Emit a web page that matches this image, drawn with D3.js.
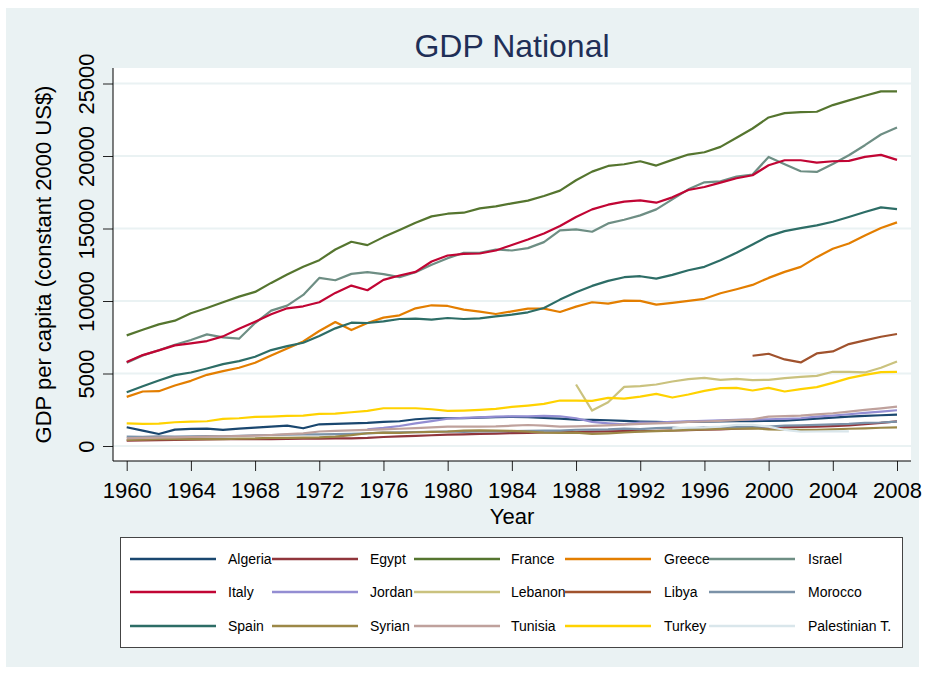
<!DOCTYPE html>
<html>
<head>
<meta charset="utf-8">
<script src="https://cdn.jsdelivr.net/npm/d3@7"></script>
<style>
  body { margin: 0; background: #ffffff; }
  text { font-family: "Liberation Sans", Arial, sans-serif; }
</style>
</head>
<body>
<svg id="chart"></svg>
<script>
// Data (GDP per capita, constant 2000 US$)
const years = d3.range(1960, 2009);
const yTicks = [0, 5000, 10000, 15000, 20000, 25000];
const xTicks = [1960, 1964, 1968, 1972, 1976, 1980, 1984, 1988, 1992, 1996, 2000, 2004, 2008];

const countries = ["Algeria", "Egypt", "France", "Greece", "Israel",
                   "Italy", "Jordan", "Lebanon", "Libya", "Morocco",
                   "Spain", "Syrian", "Tunisia", "Turkey", "Palestinian T."];
const colors = ["#1a476f", "#90353b", "#55752f", "#e37e00", "#6e8e84",
                "#c10534", "#938dd2", "#cac27e", "#a0522d", "#7b92a8",
                "#2d6d66", "#9c8847", "#bfa19c", "#ffd200", "#d9e6eb"];

const N = null;
const algeria = [1291,1060,830,1129,1176,1199,1106,1199,1268,1337,
  1406,1222,1498,1521,1567,1590,1660,1706,1844,1913,
  1913,1913,1959,1982,2005,1990,1930,1890,1821,1798,
  1775,1729,1683,1660,1637,1660,1683,1690,1706,1715,
  1729,1752,1821,1890,1959,2028,2075,2121,2167];
const egypt = [369,380,400,420,440,455,465,470,475,480,
  495,505,510,520,530,560,620,660,700,740,
  780,800,830,860,890,910,930,950,970,990,
  1010,1020,1030,1050,1070,1090,1120,1150,1190,1230,
  1270,1300,1320,1340,1370,1420,1500,1600,1700];
const france = [7630,8021,8390,8644,9151,9520,9912,10303,10626,11248,
  11825,12355,12816,13553,14084,13853,14406,14890,15397,15835,
  16020,16089,16389,16527,16734,16919,17241,17610,18325,18924,
  19316,19431,19639,19339,19731,20100,20261,20630,21253,21898,
  22659,22958,23027,23050,23511,23834,24156,24456,24456];
const greece = [3388,3757,3780,4172,4495,4910,5163,5394,5739,6247,
  6731,7215,7929,8552,7998,8482,8851,9013,9497,9704,
  9658,9405,9266,9105,9280,9474,9474,9243,9612,9912,
  9820,10027,10004,9750,9865,10004,10150,10534,10810,11110,
  11594,12009,12355,13023,13599,13968,14521,15029,15421];
const israel = [5750,6250,6600,6984,7307,7699,7491,7399,8482,9335,
  9681,10419,11594,11433,11871,11986,11848,11641,11986,12493,
  12954,13323,13323,13553,13484,13646,14061,14867,14936,14775,
  15351,15605,15904,16319,17011,17702,18186,18256,18578,18717,
  19938,19431,18947,18901,19454,20054,20745,21483,21967];
const italy = [5786,6270,6592,6938,7076,7238,7560,8091,8575,9082,
  9497,9635,9912,10557,11064,10741,11456,11756,12009,12724,
  13139,13254,13277,13484,13860,14245,14660,15167,15789,16319,
  16642,16850,16942,16780,17149,17656,17864,18164,18463,18671,
  19362,19708,19708,19547,19639,19662,19939,20077,19731];
const jordan = [N,N,N,N,N,N,N,N,N,N,
  N,N,N,N,N,1150,1250,1380,1560,1720,
  1880,1940,1980,2028,2040,2040,2075,2050,1913,1660,
  1567,1498,1613,1620,1660,1706,1729,1775,1798,1821,
  1844,1867,1913,2028,2098,2190,2282,2374,2466];
const lebanon = [N,N,N,N,N,N,N,N,N,N,
  N,N,N,N,N,N,N,N,N,N,
  N,N,N,N,N,N,N,N,4241,2443,
  3020,4080,4126,4241,4449,4610,4702,4564,4633,4541,
  4564,4679,4771,4840,5117,5117,5071,5394,5832];
const libya = [N,N,N,N,N,N,N,N,N,N,
  N,N,N,N,N,N,N,N,N,N,
  N,N,N,N,N,N,N,N,N,N,
  N,N,N,N,N,N,N,N,N,6224,
  6362,5970,5763,6385,6523,7030,7284,7537,7722];
const morocco = [645,630,660,650,670,680,660,700,740,760,
  780,800,800,820,840,870,920,950,960,980,
  1000,970,1010,1000,1020,1040,1070,1060,1120,1130,
  1150,1200,1170,1230,1270,1200,1290,1260,1320,1320,
  1337,1400,1420,1460,1498,1530,1590,1620,1683];
const spain = [3711,4126,4518,4887,5071,5348,5647,5855,6154,6615,
  6892,7122,7583,8114,8505,8482,8598,8759,8782,8713,
  8828,8759,8805,8943,9059,9220,9520,10096,10603,11041,
  11387,11640,11709,11548,11802,12124,12355,12816,13323,13900,
  14476,14821,15029,15213,15467,15789,16135,16458,16342];
const syrian = [415,430,480,470,490,480,470,510,520,560,
  560,580,600,650,750,880,922,900,950,968,
  1000,1060,1080,1060,1040,991,920,900,922,830,
  876,930,991,1020,1060,1106,1140,1175,1190,1222,
  1152,1130,1106,1120,1152,1190,1222,1260,1291];
const tunisia = [530,560,580,600,620,640,660,690,720,760,
  820,876,1000,1040,1080,1106,1150,1190,1230,1280,
  1337,1340,1337,1350,1400,1450,1400,1337,1360,1383,
  1429,1470,1530,1567,1600,1660,1690,1729,1780,1844,
  2028,2060,2098,2180,2259,2370,2490,2600,2720];
const turkey = [1567,1521,1544,1637,1683,1706,1867,1913,2005,2028,
  2075,2098,2213,2236,2328,2420,2605,2605,2605,2536,
  2420,2443,2489,2559,2697,2789,2904,3135,3135,3112,
  3319,3273,3411,3596,3342,3550,3803,3988,4011,3826,
  4011,3757,3919,4057,4356,4679,4910,5094,5117];
const palestine = [N,N,N,N,N,N,N,N,N,N,
  N,N,N,N,N,N,N,N,N,N,
  N,N,N,N,N,N,N,N,N,N,
  N,N,N,N,1222,1268,1280,1337,1452,1452,
  1337,1106,991,1000,1014,1014,N,N,N];

const seriesValues = [algeria, egypt, france, greece, israel, italy, jordan, lebanon,
                      libya, morocco, spain, syrian, tunisia, turkey, palestine];

const width = 925, height = 673;
const plot = {left: 113, right: 911, top: 68, bottom: 461};

const svg = d3.select("#chart")
  .attr("width", width)
  .attr("height", height);

// outer panel
svg.append("rect")
  .attr("x", 6).attr("y", 8)
  .attr("width", 913).attr("height", 659)
  .attr("fill", "#eaf2f3");

// plot region
svg.append("rect")
  .attr("x", plot.left).attr("y", plot.top)
  .attr("width", plot.right - plot.left).attr("height", plot.bottom - plot.top)
  .attr("fill", "#ffffff");

const x = d3.scaleLinear().domain([1960, 2008]).range([126.7, 897]);
const y = d3.scaleLinear().domain([0, 25000]).range([446, 83.5]);

// gridlines
svg.append("g")
  .selectAll("line")
  .data(yTicks)
  .join("line")
  .attr("x1", plot.left).attr("x2", plot.right)
  .attr("y1", d => y(d)).attr("y2", d => y(d))
  .attr("stroke", "#eaf2f3")
  .attr("stroke-width", 2);

// series lines
const line = d3.line()
  .defined(d => d != null)
  .x((d, i) => x(years[i]))
  .y(d => y(d));

svg.append("g")
  .selectAll("path")
  .data(seriesValues)
  .join("path")
  .attr("d", d => line(d))
  .attr("fill", "none")
  .attr("stroke", (d, i) => colors[i])
  .attr("stroke-width", 2.2)
  .attr("stroke-linejoin", "round");

// axes
const xAxis = svg.append("g")
  .attr("transform", `translate(0,${plot.bottom})`)
  .call(d3.axisBottom(x).tickValues(xTicks).tickFormat(d3.format("d")).tickSize(10).tickPadding(11));
xAxis.select(".domain").remove();
xAxis.selectAll("line").attr("stroke", "#222");
xAxis.selectAll("text").attr("font-size", 22).attr("fill", "#000")
  .style("font-family", "'Liberation Sans', Arial, sans-serif");

const yAxis = svg.append("g")
  .attr("transform", `translate(${plot.left},0)`)
  .call(d3.axisLeft(y).tickValues(yTicks).tickFormat(d3.format("d")).tickSize(10));
yAxis.select(".domain").remove();
yAxis.selectAll("line").attr("stroke", "#222");
yAxis.selectAll("text")
  .attr("x", null).attr("dy", null)
  .attr("transform", "translate(-19,0) rotate(-90)")
  .attr("text-anchor", "middle")
  .attr("font-size", 22).attr("fill", "#000")
  .style("font-family", "'Liberation Sans', Arial, sans-serif");

// axis lines
svg.append("line")
  .attr("x1", plot.left).attr("x2", plot.left)
  .attr("y1", plot.top).attr("y2", plot.bottom)
  .attr("stroke", "#000");
svg.append("line")
  .attr("x1", plot.left).attr("x2", plot.right)
  .attr("y1", plot.bottom).attr("y2", plot.bottom)
  .attr("stroke", "#000");

// titles
svg.append("text")
  .attr("x", 512).attr("y", 57)
  .attr("text-anchor", "middle")
  .attr("font-size", 32)
  .attr("fill", "#1f2f57")
  .text("GDP National");

svg.append("text")
  .attr("x", 512).attr("y", 524)
  .attr("text-anchor", "middle")
  .attr("font-size", 22)
  .text("Year");

svg.append("text")
  .attr("transform", "translate(51,264.5) rotate(-90)")
  .attr("text-anchor", "middle")
  .attr("font-size", 22)
  .text("GDP per capita (constant 2000 US$)");

// legend
const legend = svg.append("g");
legend.append("rect")
  .attr("x", 120.5).attr("y", 537.5)
  .attr("width", 782).attr("height", 110)
  .attr("fill", "#ffffff")
  .attr("stroke", "#444");

const keyX = [130, 272, 414, 565, 709];
const labelX = [228, 370, 511, 664, 808];
const rowY = [559, 592, 626];

const items = legend.selectAll("g.item")
  .data(countries)
  .join("g")
  .attr("class", "item");

items.append("line")
  .attr("x1", (d, i) => keyX[i % 5])
  .attr("x2", (d, i) => keyX[i % 5] + 86)
  .attr("y1", (d, i) => rowY[Math.floor(i / 5)])
  .attr("y2", (d, i) => rowY[Math.floor(i / 5)])
  .attr("stroke", (d, i) => colors[i])
  .attr("stroke-width", 2.5);

items.append("text")
  .attr("x", (d, i) => labelX[i % 5])
  .attr("y", (d, i) => rowY[Math.floor(i / 5)] + 5)
  .attr("font-size", 14)
  .text(d => d);
</script>
</body>
</html>
